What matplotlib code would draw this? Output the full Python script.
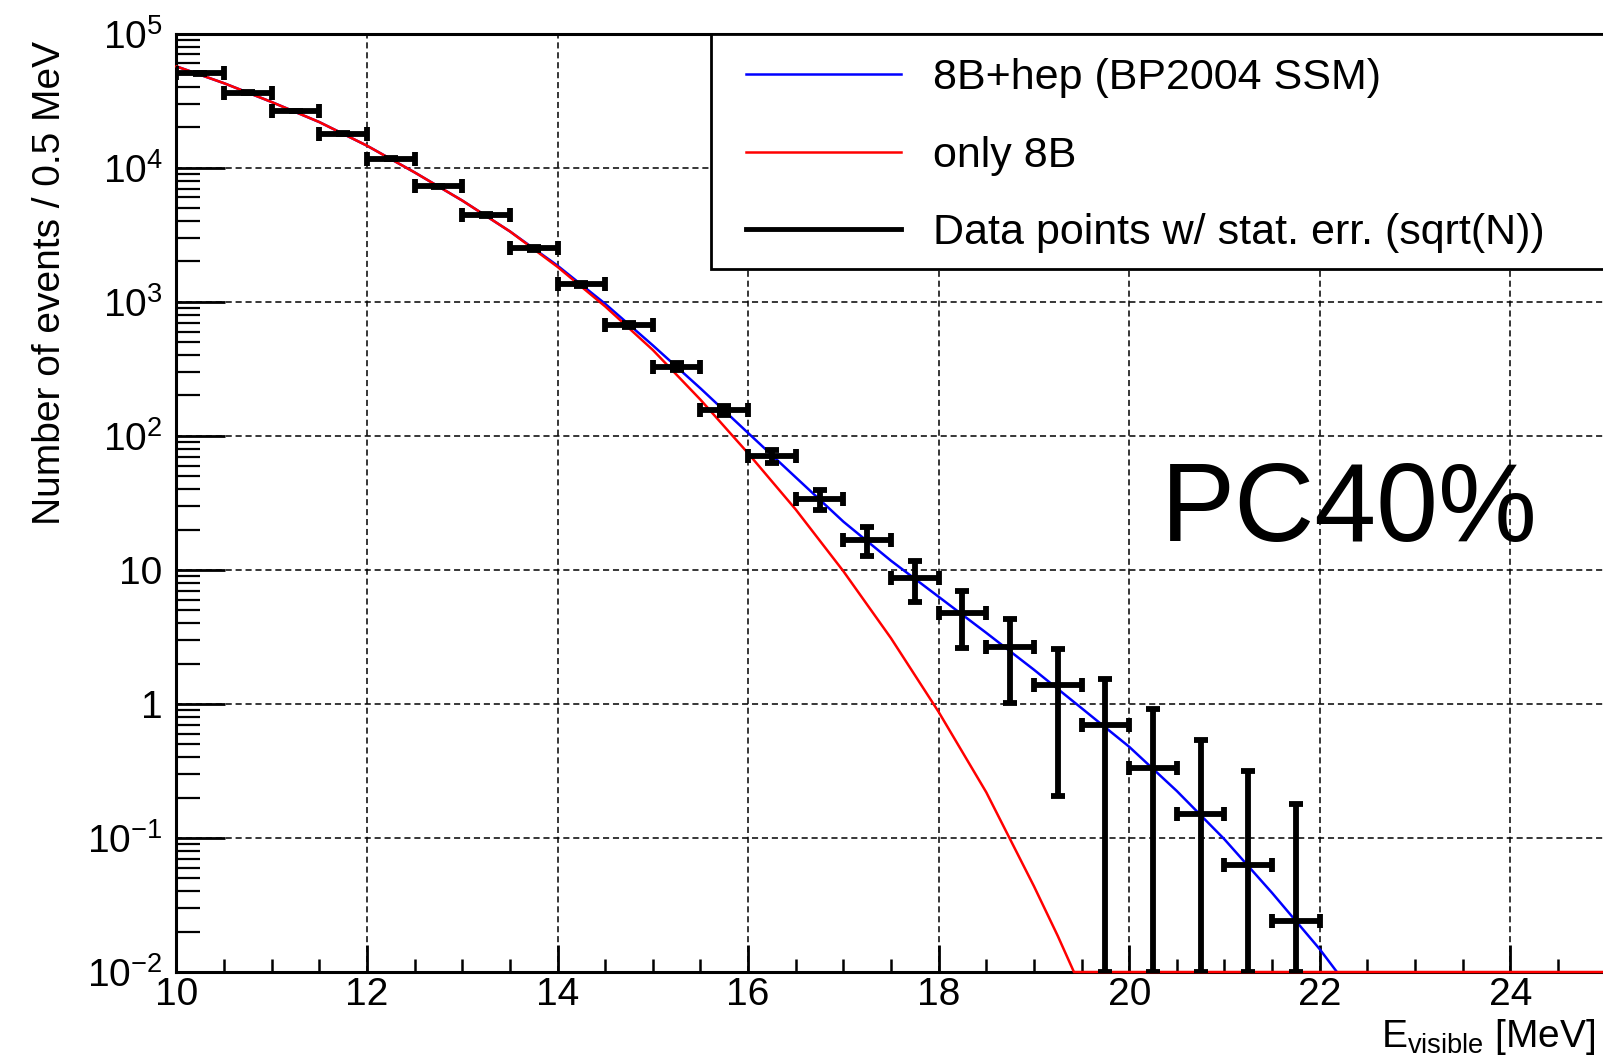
import numpy as np
import matplotlib
matplotlib.use("Agg")
import matplotlib.pyplot as plt
from matplotlib.lines import Line2D
from matplotlib.patches import Rectangle
from matplotlib.ticker import FixedLocator, MultipleLocator, NullFormatter

plt.rcParams['font.family'] = ['Liberation Sans', 'DejaVu Sans']
plt.rcParams['mathtext.fontset'] = 'custom'
plt.rcParams['mathtext.rm'] = 'Liberation Sans'
plt.rcParams['mathtext.it'] = 'Liberation Sans:italic'
plt.rcParams['mathtext.default'] = 'rm'

# data points (0.5 MeV bins), stat. err. = sqrt(N)
bin_centers = [10.25, 10.75, 11.25, 11.75, 12.25, 12.75, 13.25, 13.75, 14.25, 14.75,
               15.25, 15.75, 16.25, 16.75, 17.25, 17.75, 18.25, 18.75, 19.25, 19.75,
               20.25, 20.75, 21.25, 21.75]
counts = [50600, 36300, 26500, 18000, 11650, 7260, 4450, 2500, 1355, 673,
          329, 155, 70.6, 33.9, 16.8, 8.67, 4.79, 2.64, 1.38, 0.70,
          0.335, 0.150, 0.063, 0.024]
bin_half = 0.25

# 8B+hep (BP2004 SSM)
hep_x = [10.0, 10.5, 11.0, 11.5, 12.0, 12.5, 13.0, 13.5, 14.0, 14.5, 15.0, 15.5, 16.0,
         16.5, 17.0, 17.5, 18.0, 18.5, 19.0, 19.5, 20.0, 20.5, 21.0, 21.5, 22.0, 22.5]
hep_y = [57000, 42700, 30900, 21900, 14600, 9230, 5690, 3350, 1860, 966, 473, 226, 105,
         49.0, 22.9, 11.7, 6.3, 3.39, 1.80, 0.93, 0.479, 0.224, 0.0977, 0.0389, 0.0148, 0.0050]

# only 8B
b8_x = [10.0, 10.5, 11.0, 11.5, 12.0, 12.5, 13.0, 13.5, 14.0, 14.5, 15.0, 15.5, 16.0,
        16.5, 17.0, 17.5, 18.0, 18.5, 19.0, 19.25, 19.42, 19.5, 25.0]
b8_y = [57000, 42700, 30900, 21900, 14600, 9230, 5690, 3350, 1820, 923, 437, 186, 74.1,
        28.2, 9.77, 3.09, 0.871, 0.219, 0.0437, 0.0186, 0.0100, 0.0, 0.0]

ymin, ymax = 1e-2, 1e5
ytick_vals = [1e-2, 1e-1, 1, 10, 1e2, 1e3, 1e4, 1e5]
ytick_labels = ['$10^{-2}$', '$10^{-1}$', '1', '10', '$10^{2}$', '$10^{3}$', '$10^{4}$', '$10^{5}$']

fig = plt.figure(figsize=(16.03, 10.60), dpi=100)
ax = fig.add_axes([0.1101, 0.0830, 0.8915, 0.8852])

l_hep, = ax.plot(hep_x, hep_y, color='#0000ff', lw=1.8, zorder=2)
l_b8, = ax.plot(b8_x, np.clip(b8_y, ymin, None), color='#ff0000', lw=1.8,
                zorder=2.6, clip_on=False)

counts_arr = np.array(counts)
err = np.sqrt(counts_arr)
low = counts_arr - np.maximum(counts_arr - err, ymin)
ax.errorbar(bin_centers, counts, xerr=bin_half, yerr=[low, err], fmt='none',
            ecolor='black', elinewidth=4.2, capsize=5, capthick=4.2, zorder=3)

ax.set_yscale('log')
ax.set_xlim(10, 25)
ax.set_ylim(ymin, ymax)

ax.xaxis.set_major_locator(MultipleLocator(2))
ax.xaxis.set_minor_locator(MultipleLocator(0.5))
ax.yaxis.set_major_locator(FixedLocator(ytick_vals))
ax.set_yticklabels(ytick_labels)
ax.yaxis.set_minor_formatter(NullFormatter())

ax.tick_params(axis='x', which='major', direction='in', length=19.5, width=2, labelsize=28, pad=3.5)
ax.tick_params(axis='x', which='minor', direction='in', length=9.5, width=1.8)
ax.tick_params(axis='y', which='major', direction='in', length=35, width=2, labelsize=28, pad=10)
ax.tick_params(axis='y', which='minor', direction='in', length=17.5, width=1.6)

for s in ax.spines.values():
    s.set_linewidth(2.2)

ax.set_axisbelow(True)
ax.grid(True, which='major', color='black', lw=1.1, ls=(0, (4, 2.5)))

# legend box (drawn separately so the entries can sit further in)
ax.add_patch(Rectangle((0.374, 0.7495), 0.7, 0.2505, transform=ax.transAxes,
                       facecolor='white', edgecolor='black', lw=2, zorder=4, clip_on=False))

data_proxy = Line2D([], [], color='black', lw=3.5)
leg = ax.legend([l_hep, l_b8, data_proxy],
                ['8B+hep (BP2004 SSM)', 'only 8B', 'Data points w/ stat. err. (sqrt(N))'],
                loc='upper left', bbox_to_anchor=(0.3814, 1.0),
                borderaxespad=0, fontsize=31, frameon=False,
                handlelength=3.6, handletextpad=0.74,
                borderpad=0.57, labelspacing=0.87)
leg.set_zorder(5)

ax.text(20.33, 16.3, 'PC40%', fontsize=80, ha='left', va='baseline', zorder=4)

fig.text(50 / 1603, 1 - 41 / 1060, 'Number of events / 0.5 MeV', rotation=90,
         ha='center', va='top', fontsize=28)
fig.text(1381 / 1603, 0.012, r'E$_{\mathrm{visible}}$ [MeV]', ha='left', va='baseline',
         fontsize=28)

fig.savefig('out.png', dpi=100)
